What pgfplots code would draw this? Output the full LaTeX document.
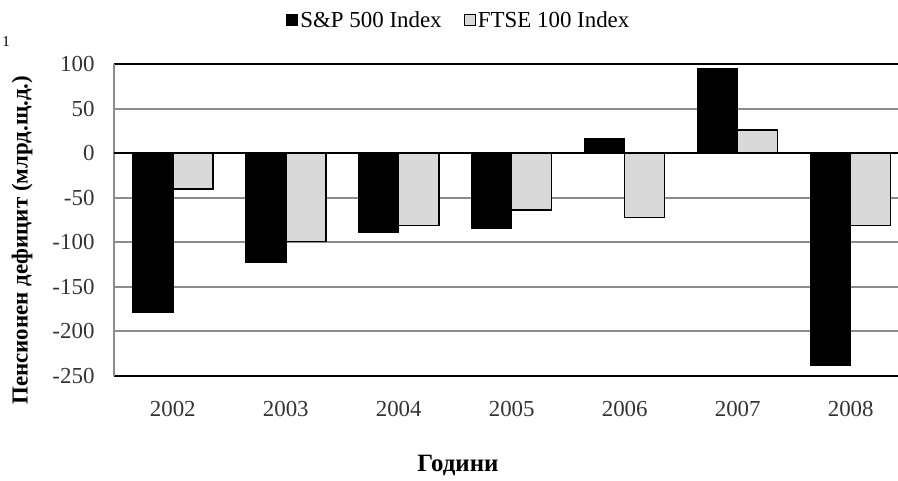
\documentclass[border=0pt]{standalone}
\usepackage{fontspec}
\setmainfont{Liberation Serif}
\usepackage{pgfplots}
\pgfplotsset{compat=1.18}
\definecolor{gridgray}{HTML}{8C8C8C}
\definecolor{ftse}{HTML}{D9D9D9}
\begin{document}
\begin{tikzpicture}
\useasboundingbox (-114bp,-105bp) rectangle (784bp,376bp);
\begin{axis}[
  scale only axis, width=800bp, height=312bp,
  xmin=-0.52, xmax=6.56, ymin=-250, ymax=100,
  ybar=0pt, bar width=40bp,
  xtick={0,1,2,3,4,5,6},
  xticklabels={2002,2003,2004,2005,2006,2007,2008},
  ytick={-250,-200,...,100},
  ymajorgrids, major grid style={gridgray, line width=2bp},
  major tick length=0pt,
  separate axis lines,
  x axis line style={black, line width=2.5bp},
  y axis line style={gridgray, line width=2bp},
  tick label style={font=\fontsize{23}{27}\selectfont, text=black!80},
  /pgf/number format/assume math mode=true,
  xticklabel style={yshift=-22bp},
  yticklabel style={xshift=-16bp},
  xlabel={\bfseries Години},
  xlabel style={at={(axis description cs:0.43,0)}, anchor=center, yshift=-90bp, font=\fontsize{25}{29}\selectfont},
  ylabel={\bfseries Пенсионен дефицит (млрд.щ.д.)},
  ylabel style={at={(axis description cs:-0.115,0.435)}, anchor=center, font=\fontsize{23}{27}\selectfont},
  legend style={at={(axis description cs:0.431,1.141)}, anchor=center, draw=none, fill=none, legend columns=2, font=\fontsize{23}{27}\selectfont, /tikz/every even column/.append style={column sep=20bp}},
  legend image code/.code={\draw[#1, line width=1.2bp] (-6bp,-5.5bp) rectangle (5bp,5.5bp);},
]
\addplot[fill=black, draw=black, line width=1.5bp] coordinates {(0,-178) (1,-122) (2,-89) (3,-84) (4,16) (5,95) (6,-238)};
\addplot[fill=ftse, draw=black, line width=1.5bp] coordinates {(0,-40) (1,-99) (2,-81) (3,-64) (4,-72) (5,26) (6,-81)};
\legend{S\&P 500 Index, FTSE 100 Index}
\draw[black, line width=2.5bp] (axis cs:-0.52,0) -- (axis cs:6.56,0);
\end{axis}
\node[font=\fontsize{15}{17}\selectfont] at (-108bp,334bp) {1};
\end{tikzpicture}
\end{document}
